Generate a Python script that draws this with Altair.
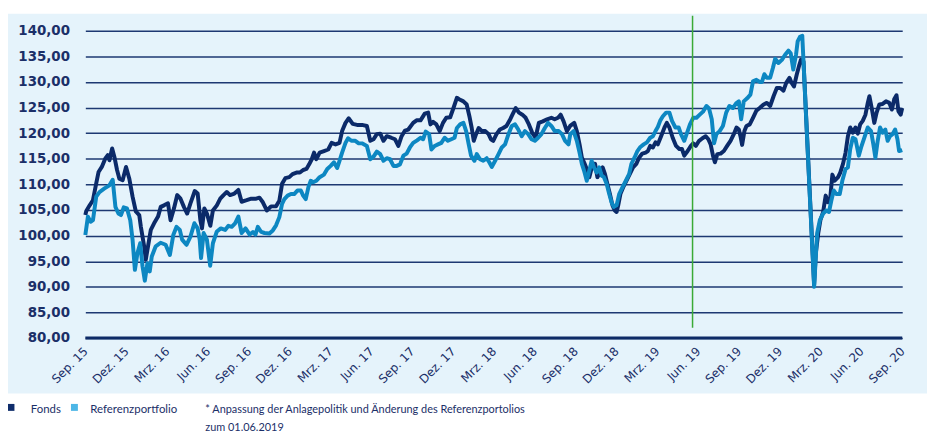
import json
import altair as alt
import pandas as pd

# ---------------- data ----------------
tick_labels = ["Sep. 15", "Dez. 15", "Mrz. 16", "Jun. 16", "Sep. 16", "Dez. 16",
               "Mrz. 17", "Jun. 17", "Sep. 17", "Dez. 17", "Mrz. 18", "Jun. 18",
               "Sep. 18", "Dez. 18", "Mrz. 19", "Jun. 19", "Sep. 19", "Dez. 19",
               "Mrz. 20", "Jun. 20", "Sep. 20"]
tick_months = list(range(0, 61, 3))          # months since Sep. 15
y_ticks = list(range(80, 141, 5))

series_names = ["Fonds", "Referenzportfolio"]
line_colors = ["#0b2a69", "#0d87c2"]
legend_colors = ["#0f2d6b", "#4cb6e6"]

# months since Sep. 2015 (fractional) and index values
fonds_m = [0.0, 0.07, 0.32, 0.56, 0.80, 0.97, 1.21, 1.46, 1.65, 1.77, 1.97, 2.14, 2.33, 2.50, 2.74, 2.99,
           3.23, 3.47, 3.71, 3.96, 4.08, 4.32, 4.44, 4.56, 4.81, 5.05, 5.34, 5.54, 5.78, 6.07, 6.26, 6.51,
           6.75, 6.99, 7.24, 7.48, 7.72, 8.04, 8.25, 8.45, 8.57, 8.74, 8.93, 9.18, 9.37, 9.66, 9.91, 10.15,
           10.39, 10.63, 10.95, 11.24, 11.48, 11.85, 12.19, 12.55, 12.79, 13.04, 13.33, 13.64, 14.01, 14.25,
           14.45, 14.69, 14.98, 15.22, 15.51, 15.76, 16.00, 16.24, 16.44, 16.63, 16.80, 16.97, 17.21, 17.53,
           17.84, 18.09, 18.38, 18.67, 18.86, 19.11, 19.35, 19.64, 19.96, 20.32, 20.68, 20.93, 21.17, 21.41,
           21.66, 21.90, 22.14, 22.46, 22.75, 22.99, 23.23, 23.48, 23.72, 24.08, 24.33, 24.62, 24.93, 25.18,
           25.35, 25.54, 25.78, 26.03, 26.27, 26.51, 26.80, 27.04, 27.29, 27.53, 27.77, 28.01, 28.21, 28.38,
           28.53, 28.70, 28.89, 29.13, 29.38, 29.62, 29.79, 29.96, 30.20, 30.45, 30.69, 30.93, 31.17, 31.37,
           31.61, 31.85, 32.10, 32.34, 32.58, 32.82, 33.07, 33.31, 33.60, 33.92, 34.23, 34.47, 34.72, 34.91,
           35.13, 35.37, 35.61, 35.91, 36.10, 36.30, 36.47, 36.63, 36.83, 37.02, 37.27, 37.44, 37.61, 37.80,
           38.00, 38.17, 38.34, 38.53, 38.72, 38.89, 39.02, 39.14, 39.30, 39.50, 39.74, 39.99, 40.23, 40.47,
           40.67, 40.91, 41.15, 41.32, 41.49, 41.69, 41.88, 42.05, 42.29, 42.54, 42.71, 42.90, 43.14, 43.39,
           43.63, 43.82, 43.99, 44.24, 44.48, 44.65, 44.84, 45.08, 45.33, 45.57, 45.76, 45.93, 46.10, 46.24,
           46.42, 46.66, 46.90, 47.14, 47.39, 47.63, 47.83, 48.00, 48.12, 48.24, 48.41, 48.56, 48.80, 49.04,
           49.29, 49.53, 49.82, 50.06, 50.30, 50.55, 50.79, 51.04, 51.28, 51.48, 51.72, 51.88, 52.05, 52.25,
           52.44, 52.56, 52.75, 53.53, 53.65, 53.83, 53.99, 54.19, 54.38, 54.55, 54.72, 54.87, 55.04, 55.29,
           55.45, 55.65, 55.84, 56.01, 56.18, 56.37, 56.57, 56.74, 56.91, 57.10, 57.30, 57.47, 57.59, 57.78,
           57.95, 58.12, 58.32, 58.56, 58.81, 59.05, 59.24, 59.41, 59.58, 59.72, 59.89, 60.0]
fonds_v = [104.0, 104.8, 105.9, 106.9, 110.2, 112.4, 113.4, 115.0, 115.7, 114.7, 117.0, 115.3, 112.8, 111.1, 110.8, 113.4,
           111.1, 107.6, 104.7, 104.0, 101.7, 97.9, 95.3, 97.2, 101.1, 102.4, 103.7, 105.6, 105.9, 106.3, 103.0, 105.3,
           107.9, 107.2, 105.6, 104.3, 106.3, 108.7, 108.2, 103.0, 101.4, 105.3, 104.3, 101.9, 104.9, 105.9, 107.2, 107.9,
           108.5, 107.9, 108.2, 108.9, 106.6, 106.9, 107.2, 107.2, 107.4, 106.5, 104.9, 105.7, 105.7, 106.8,
           110.1, 111.2, 111.4, 112.0, 112.3, 112.3, 112.8, 113.0, 113.9, 114.9, 116.2, 114.9, 116.2, 116.5,
           116.8, 118.1, 117.8, 118.1, 120.4, 122.0, 122.9, 121.8, 121.6, 121.6, 121.4, 118.5, 118.8, 119.8,
           119.9, 118.5, 119.4, 119.1, 118.8, 117.5, 119.4, 120.5, 120.7, 122.0, 122.5, 122.5, 123.8, 124.0,
           121.7, 122.2, 121.7, 120.4, 122.0, 123.0, 123.1, 124.9, 126.9, 126.5, 126.2, 125.6, 123.3, 121.0,
           118.5, 119.8, 121.0, 120.4, 120.4, 119.8, 118.8, 118.5, 119.8, 120.7, 121.0, 121.4, 122.5, 123.6,
           124.9, 124.0, 123.6, 123.0, 121.7, 120.1, 119.1, 122.0, 122.3, 122.7, 123.0, 122.7, 123.0, 123.6,
           122.3, 120.4, 121.4, 122.0, 120.4, 117.8, 115.2, 114.3, 113.0, 111.4, 114.0, 114.0, 111.4, 112.3,
           113.3, 112.0, 110.1, 108.1, 105.9, 104.9, 104.6, 105.9, 108.1, 109.4, 110.7, 112.0, 113.3, 114.0,
           115.2, 116.0, 116.2, 116.5, 117.5, 117.2, 118.2, 117.8, 119.4, 121.1, 122.0, 121.1, 119.1, 117.5,
           116.9, 116.9, 115.6, 116.5, 117.5, 118.0, 117.5, 118.5, 119.0, 119.4, 118.8, 117.8, 115.6, 114.3,
           115.9, 116.0, 116.5, 117.5, 118.5, 119.8, 121.1, 120.7, 119.4, 117.7, 120.4, 121.4, 121.7, 123.0,
           124.4, 124.9, 125.6, 125.9, 125.3, 127.2, 128.8, 128.8, 128.3, 129.8, 130.8, 129.8, 129.1, 131.4,
           133.3, 134.3, 134.0, 90.4, 96.5, 100.4, 103.0, 104.6, 107.8, 106.5, 107.5, 111.9, 110.7, 111.4,
           112.3, 114.0, 116.2, 119.4, 121.1, 120.1, 121.1, 119.9, 121.7, 122.4, 123.6, 125.9, 127.2, 124.6,
           122.0, 124.0, 125.6, 125.7, 126.2, 125.9, 124.6, 126.6, 127.4, 124.3, 123.6, 124.9]

ref_m = [0.0, 0.19, 0.39, 0.56, 0.80, 1.04, 1.41, 1.77, 2.01, 2.21, 2.43, 2.62, 2.82, 3.06, 3.30, 3.47,
         3.64, 3.83, 4.03, 4.20, 4.37, 4.56, 4.73, 4.88, 5.17, 5.53, 5.90, 6.21, 6.46, 6.70, 6.94, 7.11,
         7.43, 7.72, 8.01, 8.25, 8.40, 8.50, 8.69, 8.93, 9.17, 9.37, 9.66, 9.95, 10.27, 10.51, 10.75, 11.00,
         11.24, 11.48, 11.77, 12.07, 12.31, 12.50, 12.67, 12.92, 13.16, 13.52, 13.77, 14.01, 14.25, 14.45,
         14.62, 14.86, 15.10, 15.34, 15.59, 15.83, 16.00, 16.19, 16.39, 16.56, 16.73, 16.97, 17.21, 17.53,
         17.77, 18.02, 18.26, 18.50, 18.67, 18.86, 19.11, 19.30, 19.54, 19.83, 20.08, 20.32, 20.68, 20.93,
         21.17, 21.41, 21.66, 21.90, 22.14, 22.38, 22.63, 22.87, 23.11, 23.36, 23.60, 23.84, 24.08, 24.37,
         24.62, 24.81, 25.00, 25.25, 25.42, 25.66, 25.90, 26.15, 26.39, 26.63, 26.88, 27.12, 27.29, 27.53,
         27.77, 27.97, 28.16, 28.33, 28.58, 28.75, 28.99, 29.23, 29.48, 29.67, 29.86, 30.10, 30.35, 30.59,
         30.83, 31.08, 31.32, 31.56, 31.80, 32.05, 32.29, 32.53, 32.77, 33.02, 33.26, 33.50, 33.75, 33.99,
         34.23, 34.48, 34.76, 35.01, 35.24, 35.49, 35.62, 35.86, 36.10, 36.30, 36.47, 36.63, 36.83, 37.02,
         37.19, 37.36, 37.56, 37.75, 37.92, 38.09, 38.29, 38.48, 38.65, 38.82, 39.02, 39.21, 39.45, 39.70,
         39.94, 40.11, 40.35, 40.55, 40.77, 41.01, 41.25, 41.49, 41.69, 41.88, 42.05, 42.22, 42.42, 42.66,
         42.90, 43.09, 43.34, 43.58, 43.75, 43.99, 44.24, 44.41, 44.65, 44.89, 45.13, 45.37, 45.62, 45.81,
         46.01, 46.18, 46.35, 46.59, 46.83, 47.07, 47.31, 47.56, 47.80, 48.00, 48.17, 48.36, 48.61, 48.85,
         49.04, 49.29, 49.53, 49.70, 49.87, 50.06, 50.30, 50.50, 50.67, 50.91, 51.16, 51.40, 51.64, 51.81,
         52.00, 52.20, 52.32, 52.49, 52.66, 53.53, 53.75, 53.95, 54.19, 54.43, 54.62, 54.79, 54.97, 55.16,
         55.41, 55.60, 55.84, 56.01, 56.18, 56.37, 56.57, 56.81, 56.98, 57.22, 57.47, 57.71, 57.88, 58.03,
         58.20, 58.37, 58.56, 58.76, 58.93, 59.10, 59.29, 59.48, 59.65, 59.77, 60.0]
ref_v = [100.1, 103.7, 102.7, 103.0, 107.6, 108.5, 109.2, 109.8, 110.9, 105.6, 104.3, 104.0, 105.5, 105.3, 103.0, 99.2,
         93.3, 96.6, 98.5, 94.0, 91.2, 94.6, 93.0, 95.9, 97.9, 98.6, 98.2, 96.2, 100.1, 101.7, 101.1, 99.2,
         98.2, 99.8, 102.4, 101.4, 99.2, 95.6, 100.5, 99.2, 94.1, 98.5, 100.8, 101.4, 101.1, 101.9, 101.7, 102.4,
         103.7, 100.5, 101.4, 100.2, 100.7, 100.2, 101.7, 100.7, 100.5, 100.4, 101.0, 102.0, 103.6, 106.2,
         107.1, 107.8, 108.1, 108.1, 108.8, 108.8, 107.8, 107.1, 109.5, 110.7, 110.4, 110.7, 111.4, 111.9,
         113.0, 113.6, 114.3, 113.2, 114.6, 116.2, 118.1, 119.0, 118.5, 118.5, 118.0, 118.0, 117.5, 114.9,
         115.4, 116.4, 115.9, 114.6, 115.1, 114.9, 113.6, 113.6, 113.9, 115.6, 116.0, 117.2, 118.1, 118.6,
         119.1, 118.8, 120.3, 119.8, 116.8, 117.5, 117.8, 118.1, 119.1, 118.5, 118.8, 119.1, 121.0, 121.7,
         122.0, 120.4, 117.8, 115.6, 114.6, 115.9, 114.9, 114.6, 115.1, 114.3, 113.4, 114.6, 115.9, 117.2,
         117.8, 119.8, 121.4, 121.7, 120.7, 119.4, 120.4, 119.8, 118.8, 118.5, 119.1, 119.8, 121.0, 122.0,
         121.4, 120.4, 120.4, 119.8, 118.5, 117.8, 119.8, 120.4, 118.5, 116.2, 114.0, 112.7, 110.7, 112.7,
         114.6, 113.3, 112.3, 113.3, 111.7, 111.4, 110.1, 108.1, 106.5, 105.6, 105.9, 108.1, 109.4, 110.7,
         112.0, 114.0, 115.3, 116.5, 117.3, 117.8, 118.2, 119.1, 119.4, 120.4, 121.2, 122.4, 123.3, 124.0,
         124.0, 122.4, 121.1, 121.1, 119.8, 118.5, 120.4, 121.7, 123.0, 123.0, 123.6, 124.2, 125.3, 124.8,
         122.7, 118.0, 119.8, 120.4, 121.4, 124.0, 125.3, 124.9, 125.8, 126.2, 122.7, 126.2, 126.8, 127.5,
         130.1, 130.4, 130.0, 130.0, 131.5, 130.8, 130.8, 132.7, 134.5, 133.7, 134.3, 135.3, 136.1, 135.6,
         132.4, 135.3, 137.9, 138.8, 139.0, 90.0, 100.4, 103.0, 104.3, 104.9, 104.6, 106.8, 108.8, 108.1,
         108.1, 110.7, 113.0, 113.3, 116.9, 119.1, 118.8, 115.6, 117.2, 119.1, 121.1, 120.4, 117.8, 115.2,
         118.5, 121.1, 120.1, 120.7, 118.5, 119.4, 119.8, 120.7, 118.8, 116.5, 116.7]

marker_month = [44.6]          # 01.06.2019
marker_top = [142.9]
marker_bottom = [82.0]
baseline_value = [80]
footnote_lines = ["* Anpassung der Anlagepolitik und Änderung des Referenzportolios",
                  "zum 01.06.2019"]

# ---------------- chart ----------------
NAVY = "#1b2f68"
FONT = "DejaVu Sans"
NARROW = "Lato"
PANEL = "#e5f3fb"
W, H = 824, 310

df_f = pd.DataFrame({"m": fonds_m, "v": fonds_v})
df_r = pd.DataFrame({"m": ref_m, "v": ref_v})
df_marker = pd.DataFrame({"m": marker_month, "v": marker_top, "v2": marker_bottom})
df_base = pd.DataFrame({"v": baseline_value})
one = pd.DataFrame({"k": [0]})

label_expr = json.dumps(tick_labels) + "[round(datum.value / 3)]"

x_scale = alt.Scale(domain=[0, 60], nice=False, zero=False)
y_scale = alt.Scale(domain=[80, 140], nice=False, zero=False)
x_axis = alt.Axis(values=tick_months, labelExpr=label_expr, grid=False, ticks=False,
                  domain=False, labelAngle=315, labelAlign="right", labelBaseline="middle",
                  labelPadding=11, labelFont=FONT, labelFontSize=12, labelColor=NAVY,
                  labelOverlap=False, labelBound=False, title=None)
y_axis = alt.Axis(values=y_ticks, labelExpr="replace(format(datum.value, '.2f'), '.', ',')",
                  grid=True, gridColor="#1d3872", gridWidth=1.5, ticks=False, domain=False,
                  labelPadding=16, labelFont=FONT, labelFontSize=13.5, labelFontWeight="bold",
                  labelColor=NAVY, labelOverlap=False, title=None)
x_enc = alt.X("m:Q", scale=x_scale, axis=x_axis)
y_enc = alt.Y("v:Q", scale=y_scale, axis=y_axis)

# white strips outside the light panel (the panel itself is the chart background)
white_bottom = alt.Chart(one).mark_rect(color="white").encode(
    x=alt.value(-80), x2=alt.value(W + 30), y=alt.value(H + 56), y2=alt.value(H + 110))
white_top = alt.Chart(one).mark_rect(color="white").encode(
    x=alt.value(-80), x2=alt.value(W + 30), y=alt.value(-25), y2=alt.value(-17))

base_line = alt.Chart(df_base).mark_rule(color="#0d2a66", strokeWidth=3).encode(y=y_enc)

fonds_line = alt.Chart(df_f).mark_line(color=line_colors[0], strokeWidth=4, strokeJoin="round").encode(
    x=x_enc, y=y_enc)
ref_line = alt.Chart(df_r).mark_line(color=line_colors[1], strokeWidth=4, strokeJoin="round").encode(
    x=x_enc, y=y_enc)

marker = alt.Chart(df_marker).mark_rule(color="#3aaa35", strokeWidth=1.5).encode(
    x=x_enc, y=y_enc, y2="v2:Q")

legend_layers = []
sq_x = [-75, -11]
tx_x = [-55, 5]
for name, col, sx, tx in zip(series_names, legend_colors, sq_x, tx_x):
    legend_layers.append(alt.Chart(one).mark_square(color=col, size=49, opacity=1).encode(
        x=alt.value(sx), y=alt.value(380)))
    legend_layers.append(alt.Chart(pd.DataFrame({"t": [name]})).mark_text(
        align="left", baseline="alphabetic", font=NARROW, fontSize=11.5, color=NAVY).encode(
        text="t:N", x=alt.value(tx), y=alt.value(386)))
for i, line in enumerate(footnote_lines):
    legend_layers.append(alt.Chart(pd.DataFrame({"t": [line]})).mark_text(
        align="left", baseline="alphabetic", font=NARROW, fontSize=11, color=NAVY).encode(
        text="t:N", x=alt.value(121), y=alt.value(386 + 18 * i)))

chart = alt.layer(white_bottom, white_top, base_line, fonds_line, ref_line, marker,
                  *legend_layers).properties(
    width=W, height=H,
    autosize=alt.AutoSizeParams(type="none"),
    padding={"left": 78, "top": 21, "right": 25, "bottom": 100},
    background=PANEL,
).configure_view(strokeWidth=0)

chart.save("out.html", embed_options={"renderer": "svg", "actions": False})
